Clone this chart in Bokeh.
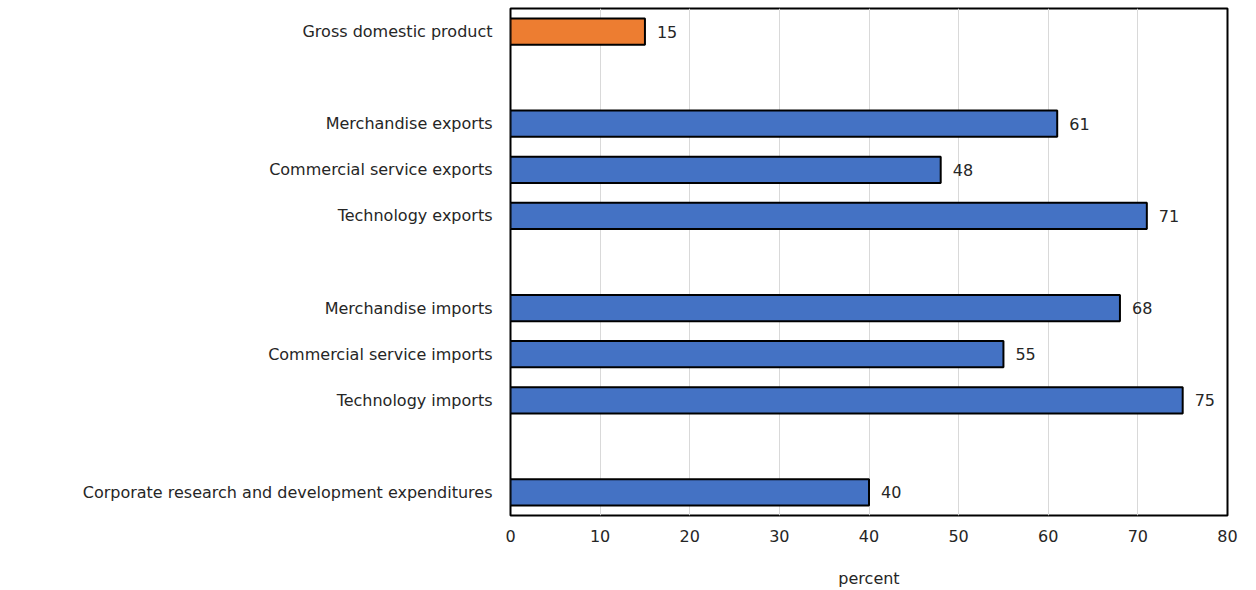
from bokeh.plotting import figure
from bokeh.models import ColumnDataSource, FactorRange, Range1d, FixedTicker
from bokeh.core.properties import value
from bokeh.embed import file_html
from bokeh.resources import INLINE

categories = [
    "Gross domestic product",
    " ",
    "Merchandise exports",
    "Commercial service exports",
    "Technology exports",
    "  ",
    "Merchandise imports",
    "Commercial service imports",
    "Technology imports",
    "   ",
    "Corporate research and development expenditures",
]
values = [15, None, 61, 48, 71, None, 68, 55, 75, None, 40]
colors = ["#ED7D31", None, "#4472C4", "#4472C4", "#4472C4", None,
          "#4472C4", "#4472C4", "#4472C4", None, "#4472C4"]
x_ticks = [0, 10, 20, 30, 40, 50, 60, 70, 80]

cats = [c for c, v in zip(categories, values) if v is not None]
vals = [v for v in values if v is not None]
cols = [c for c, v in zip(colors, values) if v is not None]
src = ColumnDataSource(dict(cat=cats, val=vals, col=cols, lab=[str(v) for v in vals]))

FONT = "DejaVu Sans"
FS = "16px"

p = figure(width=1256, height=590, output_backend="svg", toolbar_location=None,
           y_range=FactorRange(*list(reversed(categories)), range_padding=0),
           x_range=Range1d(0, 80),
           min_border_left=510, min_border_right=29, min_border_top=8, min_border_bottom=75)

p.hbar(y="cat", right="val", left=0, height=0.57, source=src,
       fill_color="col", line_color="black", line_width=2)
p.text(x="val", y="cat", text="lab", source=src, x_offset=12,
       text_baseline="middle", text_align="left", text_font=value(FONT),
       text_font_size=FS, text_color="#262626")

p.outline_line_color = "black"
p.outline_line_width = 2
p.ygrid.grid_line_color = None
p.xgrid.grid_line_color = "#d9d9d9"
p.xgrid.grid_line_width = 1
p.xaxis.ticker = FixedTicker(ticks=x_ticks)
p.xaxis.axis_label = "percent"
for ax in (p.xaxis, p.yaxis):
    ax.axis_line_color = None
    ax.major_tick_line_color = None
    ax.minor_tick_line_color = None
    ax.major_label_text_font = FONT
    ax.major_label_text_font_size = FS
    ax.major_label_text_color = "#262626"
p.yaxis.major_label_standoff = 12
p.xaxis.major_label_standoff = 8
p.xaxis.axis_label_text_font = FONT
p.xaxis.axis_label_text_font_size = FS
p.xaxis.axis_label_text_font_style = "normal"
p.xaxis.axis_label_text_color = "#262626"
p.xaxis.axis_label_standoff = 24

open("out.html", "w").write(file_html(p, INLINE))
